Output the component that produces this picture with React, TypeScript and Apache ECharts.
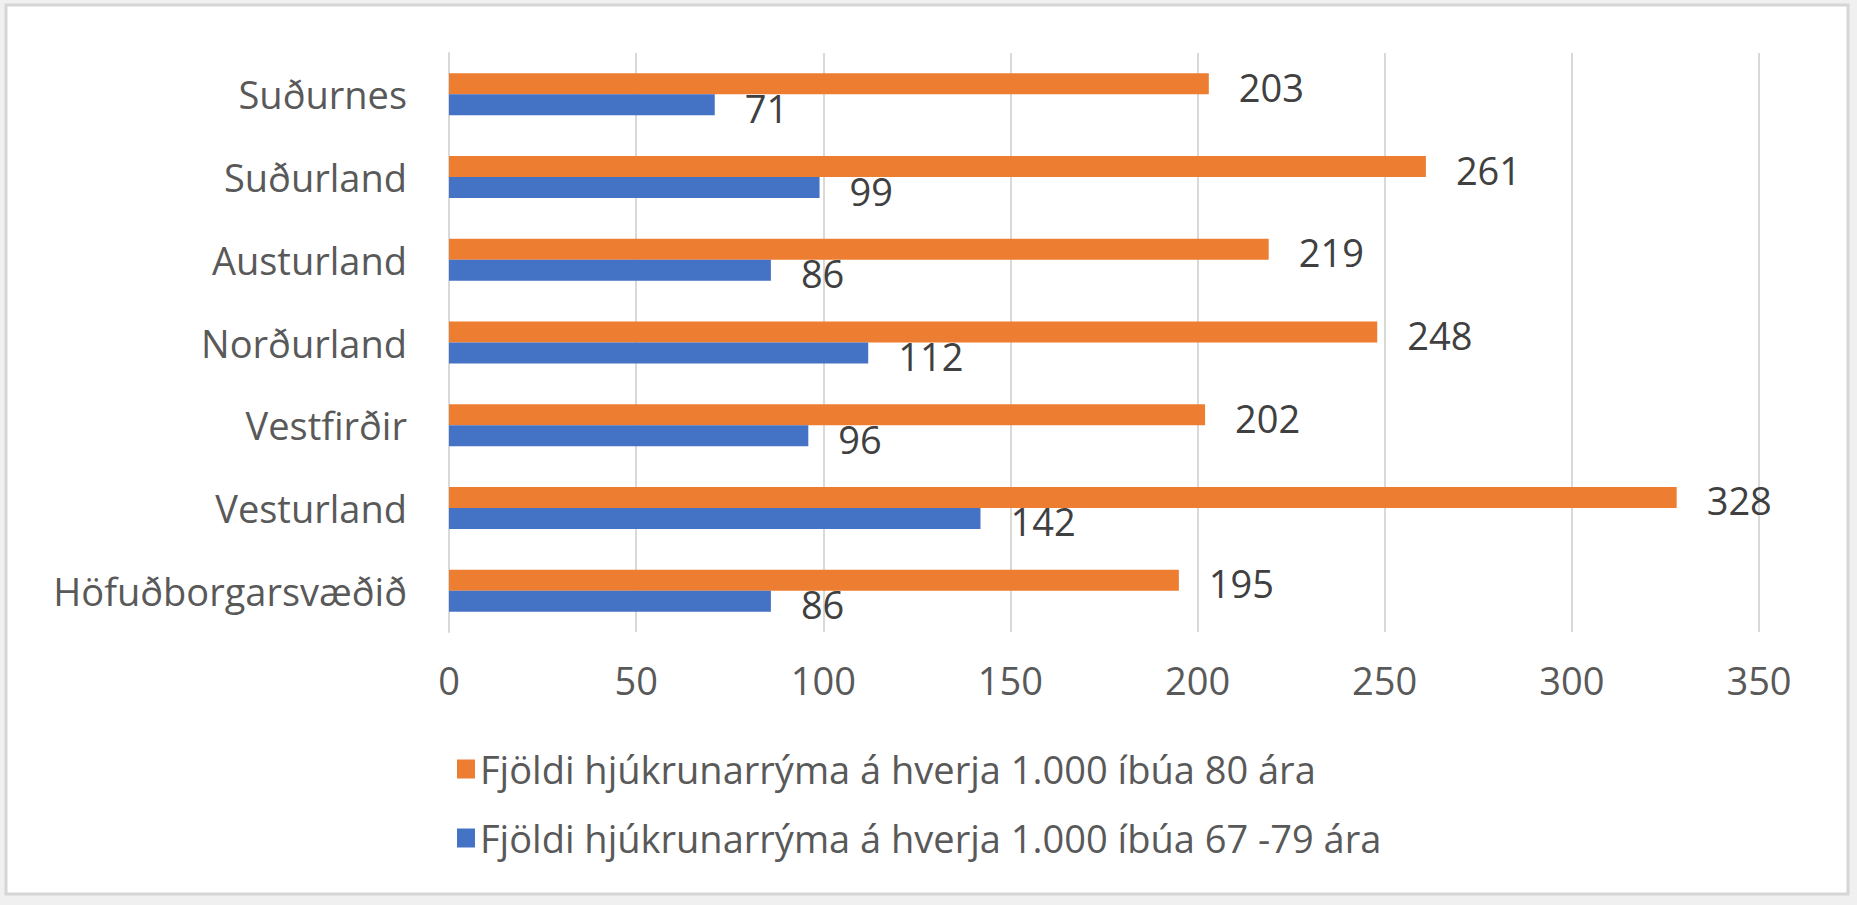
import React, { useEffect, useRef } from "react";
import * as echarts from "echarts";

const categories = [
  "Höfuðborgarsvæðið",
  "Vesturland",
  "Vestfirðir",
  "Norðurland",
  "Austurland",
  "Suðurland",
  "Suðurnes",
];
const series80 = [195, 328, 202, 248, 219, 261, 203];
const series6779 = [86, 142, 96, 112, 86, 99, 71];
const name80 = "Fjöldi hjúkrunarrýma á hverja 1.000 íbúa 80 ára";
const name6779 = "Fjöldi hjúkrunarrýma á hverja 1.000 íbúa 67 -79 ára";

const FONT = "Open Sans";
const FS = 38;

export default function App() {
  const ref = useRef<HTMLDivElement>(null);
  useEffect(() => {
    document.body.style.margin = "0";
    const chart = echarts.init(ref.current!, null, { renderer: "svg" });
    const labelCommon = {
      show: true,
      position: "right" as const,
      distance: 30,
      offset: [0, 3],
      color: "#404040",
      fontFamily: FONT,
      fontSize: FS,
    };
    chart.setOption({
      animation: false,
      backgroundColor: "#f0f0f0",
      graphic: [
        {
          type: "rect",
          z: -10,
          shape: { x: 6, y: 5, width: 1842, height: 889 },
          style: { fill: "#ffffff", stroke: "#d6d6d6", lineWidth: 3 },
          silent: true,
        },
      ],
      grid: { left: 449, right: 98, top: 53, bottom: 273, containLabel: false },
      xAxis: {
        type: "value",
        min: 0,
        max: 350,
        interval: 50,
        axisLine: { show: false },
        axisTick: { show: false },
        splitLine: { show: true, lineStyle: { color: "#d9d9d9", width: 2 } },
        axisLabel: {
          color: "#595959",
          fontFamily: FONT,
          fontSize: FS,
          margin: 29,
        },
      },
      yAxis: {
        type: "category",
        data: categories,
        axisLine: { show: true, lineStyle: { color: "#d9d9d9", width: 2 } },
        axisTick: { show: false },
        axisLabel: {
          color: "#595959",
          fontFamily: FONT,
          fontSize: FS,
          margin: 42,
        },
      },
      legend: {
        orient: "vertical",
        left: 452,
        top: 744,
        data: [name80, name6779],
        icon: "rect",
        itemWidth: 18,
        itemHeight: 19,
        itemGap: 29,
        textStyle: {
          color: "#595959",
          fontFamily: FONT,
          fontSize: FS,
          lineHeight: 40,
        },
      },
      series: [
        {
          name: name80,
          type: "bar",
          data: series80,
          barWidth: 21,
          barGap: "0%",
          itemStyle: { color: "#ED7D31" },
          label: labelCommon,
        },
        {
          name: name6779,
          type: "bar",
          data: series6779,
          barWidth: 21,
          barGap: "0%",
          itemStyle: { color: "#4472C4" },
          label: labelCommon,
        },
      ],
    });
    return () => chart.dispose();
  }, []);
  return <div ref={ref} style={{ width: 1857, height: 905 }} />;
}
